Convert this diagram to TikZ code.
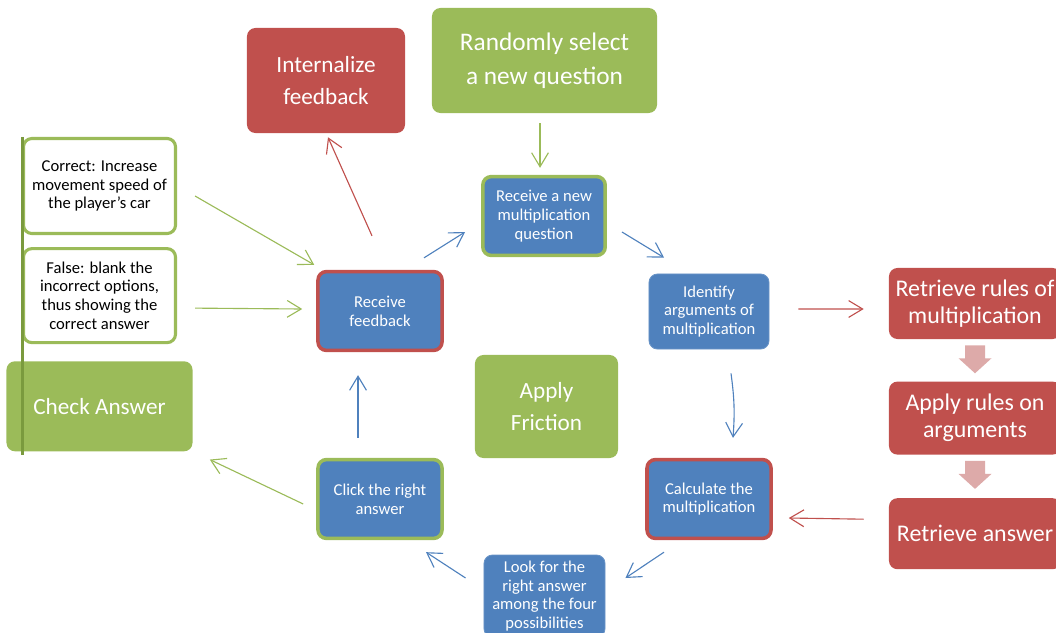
\documentclass[tikz,border=0pt]{standalone}
\usepackage{fontspec}
\setmainfont{Carlito}
\usetikzlibrary{positioning,arrows.meta,calc}

\definecolor{boxred}{HTML}{C0504D}
\definecolor{boxgreen}{HTML}{9BBB59}
\definecolor{boxblue}{HTML}{4F81BD}
\definecolor{spinegreen}{HTML}{7A9A3E}
\definecolor{blockpink}{HTML}{DDAAA9}

\tikzset{
  base/.style={rounded corners=6pt, align=center, inner sep=2pt},
  bigtext/.style={font=\fontsize{16.5}{22.5}\selectfont},
  smalltext/.style={font=\fontsize{11.8}{13.3}\selectfont},
  redbox/.style={base, bigtext, fill=boxred, text=white},
  greenbox/.style={base, bigtext, fill=boxgreen, text=white},
  stackbox/.style={redbox, font=\fontsize{17}{19}\selectfont, minimum width=4.3cm},
  bluebox/.style={base, smalltext, fill=boxblue, text=white, draw=boxblue!85!white, line width=0.6pt},
  notebox/.style={base, smalltext, fill=white, draw=boxgreen, line width=2.2pt, text=black},
  flow/.style={line width=0.8pt, -{Straight Barb[length=3.5mm,width=4.2mm]}},
}

\begin{document}
\begin{tikzpicture}[x=0.025cm, y=-0.025cm]
\useasboundingbox (0,0) rectangle (1056,632);

% top boxes
\node[redbox, minimum width=3.95cm, minimum height=2.625cm] (intern) at (326,80.5) {Internalize\\feedback};
\node[greenbox, font=\fontsize{18}{24.5}\selectfont, minimum width=5.625cm, minimum height=2.625cm] (rselect) at (544.5,60.5) {Randomly select\\a new question};

% the cycle
\node[bluebox, draw=boxgreen, line width=2.5pt, minimum width=3.06cm, minimum height=1.97cm] (rnew) at (544,216) {Receive a new\\multiplication\\question};
\node[bluebox, minimum width=3cm, minimum height=1.875cm] (ident) at (709,311.5) {Identify\\arguments of\\multiplication};
\node[bluebox, draw=boxred, line width=2.5pt, minimum width=3.1cm, minimum height=1.97cm] (calc) at (709,499) {Calculate the\\multiplication};
\node[bluebox, minimum width=3.025cm, minimum height=2.05cm] (look) at (544.5,596) {Look for the\\right answer\\among the four\\possibilities};
\node[bluebox, draw=boxgreen, line width=2.5pt, minimum width=3.1cm, minimum height=1.97cm] (click) at (380,499) {Click the right\\answer};
\node[bluebox, draw=boxred, line width=2.5pt, minimum width=3.1cm, minimum height=1.97cm] (rfeed) at (380,311) {Receive\\feedback};
\node[greenbox, minimum width=3.575cm, minimum height=2.575cm] (friction) at (546.5,406.5) {Apply\\Friction};

% left column
\node[notebox, minimum width=3.8cm, minimum height=2.375cm] (correct) at (99.5,186) {Correct: Increase\\movement speed of\\the player's car};
\node[notebox, minimum width=3.8cm, minimum height=2.35cm, below=0.3cm of correct] (false) {False: blank the\\incorrect options,\\thus showing the\\correct answer};
\node[greenbox, minimum width=4.65cm, minimum height=2.25cm, below=0.42cm of false] (check) {Check Answer};
\coordinate (spinetop) at ($(correct.north west)+(1,0)$);
\coordinate (spinebot) at ($(spinetop |- check.south)+(0,3)$);
\draw[spinegreen, line width=2.2pt] (spinetop) -- (spinebot);

% right column
\node[stackbox, minimum height=1.775cm] (rrules) at (975,303.5) {Retrieve rules of\\multiplication};
\node[stackbox, minimum height=1.825cm, below=1.05cm of rrules] (applyr) {Apply rules on\\arguments};
\node[stackbox, minimum height=1.775cm, below=1.075cm of applyr] (ranswer) {Retrieve answer};
\foreach \t in {rrules, applyr} {
  \fill[blockpink] ($(\t.south)+(-10,6)$) -- ++(20,0) -- ++(0,13) -- ++(6.5,0)
    -- ++(-16.5,15) -- ++(-16.5,-15) -- ++(6.5,0) -- cycle;
}

% connectors
\draw[flow, boxred] ($(rfeed.north)+(-8,-34)$) -- ($(intern.south)+(2,4)$);
\draw[flow, boxgreen] ($(rselect.south)+(-4.5,10)$) -- ($(rnew.north)+(-4,-7)$);
\draw[flow, boxblue] ($(rfeed.north)+(44,-12)$) -- ($(rnew.west)+(-16,16)$);
\draw[flow, boxblue] ($(rnew.east)+(15,16)$) -- ($(ident.north)+(-45,-16)$);
\draw[flow, boxblue] ($(ident.south)+(22,24)$) to[bend left=6] ($(calc.north)+(24,-20)$);
\draw[flow, boxred] ($(ident.east)+(29,-2.5)$) -- ($(rrules.west)+(-25,5.5)$);
\draw[flow, boxred] ($(ranswer.west)+(-25,-14.5)$) -- ($(calc.east)+(16,19)$);
\draw[flow, boxblue] ($(calc.south)+(-45,12)$) -- ($(look.east)+(20,-18)$);
\draw[flow, boxblue] ($(look.west)+(-18,-18)$) -- ($(click.south)+(46,12)$);
\draw[flow, boxblue] ($(click.north)+(-22,-20)$) -- ($(rfeed.south)+(-22,23)$);
\draw[flow, boxgreen] ($(click.west)+(-13,5)$) -- ($(check.south east)+(17,8)$);
\draw[flow, boxgreen] ($(correct.east)+(18,10)$) -- ($(rfeed.north west)+(-2,-5)$);
\draw[flow, boxgreen] ($(false.east)+(18,12.5)$) -- ($(rfeed.west)+(-14,-2)$);
\end{tikzpicture}
\end{document}
